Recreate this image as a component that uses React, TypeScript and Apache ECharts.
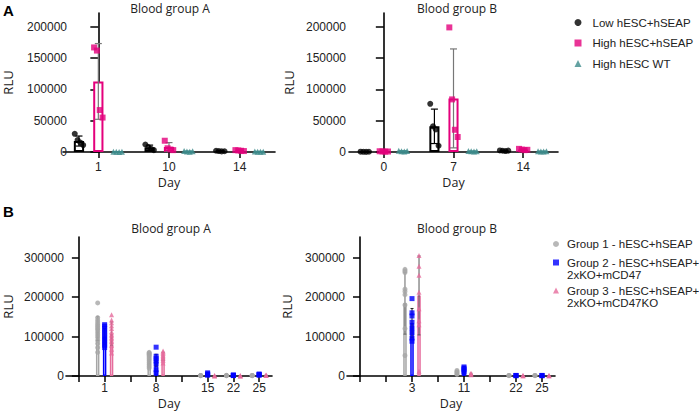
import React, { useEffect, useRef } from "react";
import * as echarts from "echarts";

// ---------------- Panel A ----------------
const aLeftTitle = "Blood group A";
const aRightTitle = "Blood group B";
const aLeftDays = ["1", "10", "14"];
const aRightDays = ["0", "7", "14"];
const aNames = ["Low hESC+hSEAP", "High hESC+hSEAP", "High hESC WT"];
const aYTicks = [0, 50000, 100000, 150000, 200000];

// Blood group A (panel A) replicates, means and SDs per day
const aLeftLowPts = [[29000, 19000, 15000, 11000], [12000, 8000, 5000, 3000], [2000, 1500, 1000, 1200]];
const aLeftHighPts = [[167000, 162000, 67000, 55000], [18000, 6000, 4000, 3000], [3000, 2500, 2000, 1500]];
const aLeftWtPts = [[300, 200, 100, 200], [1500, 800, 500, 1000], [600, 400, 300, 500]];
const aLeftLowMean = [17500, 7000, 1400];
const aLeftLowSd = [8000, 4000, 400];
const aLeftHighMean = [112700, 8000, 2200];
const aLeftHighSd = [60500, 7000, 600];
const aLeftWtMean = [200, 950, 450];
const aLeftWtSd = [80, 400, 130];

// Blood group B (panel A)
const aRightLowPts = [[500, 300, 200, 400], [77000, 41000, 36000, 10000], [2500, 2000, 1500, 2200]];
const aRightHighPts = [[1200, 900, 600, 800], [199000, 84000, 35500, 24000], [5000, 4000, 3000, 3500]];
const aRightWtPts = [[1800, 1200, 900, 1500], [1500, 1000, 800, 1200], [1200, 900, 700, 1000]];
const aRightLowMean = [350, 41000, 2050];
const aRightLowSd = [130, 27500, 400];
const aRightHighMean = [880, 85600, 3900];
const aRightHighSd = [250, 79000, 850];
const aRightWtMean = [1350, 1120, 950];
const aRightWtSd = [380, 300, 200];

// ---------------- Panel B ----------------
const bLeftTitle = "Blood group A";
const bRightTitle = "Blood group B";
const bLeftDays = ["", "1", "", "8", "", "15", "22", "25"];
const bRightDays = ["", "", "3", "", "11", "", "22", "25"];
const bLegendLines = [
  ["Group 1 - hESC+hSEAP"],
  ["Group 2 - hESC+hSEAP+", "2xKO+mCD47"],
  ["Group 3 - hESC+hSEAP+", "2xKO+mCD47KO"],
];
const bYTicks = [0, 100000, 200000, 300000];

// Blood group A (panel B)
const bLeftG1Pts = [null, [185000, 148000, 142000, 137000, 132000, 128000, 124000, 120000, 116000, 110000, 104000, 98000, 90000, 82000, 72000, 60000], null, [60000, 58000, 56000, 54000, 51000, 48000, 44000, 40000, 35000, 30000, 25000, 20000], null, [1500, 1200, 1000, 800], [1600, 1300, 1000, 800], [1500, 1200, 1000, 900]];
const bLeftG2Pts = [null, [130000, 126000, 120000, 114000, 108000, 102000, 96000, 90000, 84000, 78000, 72000], null, [73000, 50000, 44000, 38000, 30000, 16000, 8000], null, [8000, 5500, 3500, 2000], [2500, 2000, 1500, 1000], [5000, 4000, 3000, 2000]];
const bLeftG3Pts = [null, [155000, 142000, 135000, 127000, 120000, 112000, 104000, 96000, 88000, 78000, 68000, 58000], null, [63000, 60000, 57000, 53000, 49000, 45000, 40000, 33000], null, [900, 600, 400], [700, 450, 300], [2500, 1600, 1000]];
const bLeftG1Mean = [null, 120000, null, 43000, null, 1100, 1200, 1150];
const bLeftG1Sd = [null, 30000, null, 13000, null, 300, 350, 300];
const bLeftG2Mean = [null, 100000, null, 40000, null, 4700, 1750, 3500];
const bLeftG2Sd = [null, 20000, null, 15000, null, 2600, 650, 1300];
const bLeftG3Mean = [null, 107000, null, 50000, null, 630, 480, 1700];
const bLeftG3Sd = [null, 30000, null, 10000, null, 250, 200, 750];

// Blood group B (panel B)
const bRightG1Pts = [null, null, [270000, 266000, 262000, 220000, 214000, 206000, 180000, 120000, 52000], null, [14000, 11000, 9000, 6000, 4000], null, [1500, 1200, 1000], [1500, 1200, 1000]];
const bRightG2Pts = [null, null, [196000, 160000, 152000, 136000, 122000, 110000, 96000, 88000], null, [23000, 20000, 17000, 12000, 8000], null, [1500, 1000, 800], [1500, 1000, 800]];
const bRightG3Pts = [null, null, [305000, 278000, 255000, 212000, 170000, 140000, 130000, 12000], null, [7000, 5000, 3000], null, [1000, 700, 500], [1000, 700, 500]];
const bRightG1Mean = [null, null, 184000, null, 9000, null, 1200, 1200];
const bRightG1Sd = [null, null, 78000, null, 4000, null, 250, 250];
const bRightG2Mean = [null, null, 134000, null, 18000, null, 1100, 1100];
const bRightG2Sd = [null, null, 37000, null, 6000, null, 350, 350];
const bRightG3Mean = [null, null, 204000, null, 5000, null, 730, 730];
const bRightG3Sd = [null, null, 100000, null, 2000, null, 250, 250];

const A_COLORS = ["#000000", "#E4007C", "#3D8B8B"];
const A_ERR = ["#000000", "#777777", "#3D8B8B"];
const B_COLORS = ["#A6A6A6", "#0000FF", "#E66C9C"];
const B_ERR = ["#666666", "#222222", "#555555"];
const SYMBOLS = ["circle", "rect", "triangle"];

const bNames = bLegendLines.map((l) => l.join(""));

const TICK_FONT = "Liberation Sans, Arial, sans-serif";
const NAME_FONT = "Open Sans, sans-serif";

type Panel = {
  grid: number;
  names: string[];
  colors: string[];
  errColors: string[];
  pts: any[][];
  means: any[][];
  sds: any[][];
  barWidth: string;
  barGap: string;
  off: number;
  spread: number;
  symbolSize: number;
  borderWidth: number;
  capW: number;
  errW: number;
};

function panelSeries(c: Panel): any[] {
  const out: any[] = [];
  c.names.forEach((name, s) => {
    out.push({
      type: "bar",
      name: name + " mean",
      xAxisIndex: c.grid * 2,
      yAxisIndex: c.grid,
      data: c.means[s],
      barWidth: c.barWidth,
      barGap: c.barGap,
      itemStyle: { color: "#ffffff", borderColor: c.colors[s], borderWidth: c.borderWidth },
      z: 2,
      silent: true,
    });
  });
  c.names.forEach((name, s) => {
    const err: number[][] = [];
    c.means[s].forEach((m: number | null, i: number) => {
      if (m == null) return;
      const sd = c.sds[s][i];
      err.push([i + (s - 1) * c.off, Math.max(0, m - sd), m + sd]);
    });
    const color = c.errColors[s];
    const capW = c.capW;
    const lw = c.errW;
    out.push({
      type: "custom",
      name: name + " SD",
      xAxisIndex: c.grid * 2 + 1,
      yAxisIndex: c.grid,
      data: err,
      encode: { x: 0, y: [1, 2] },
      z: 3,
      silent: true,
      clip: false,
      renderItem: (params: any, api: any) => {
        const x = api.value(0);
        const lo = api.coord([x, api.value(1)]);
        const hi = api.coord([x, api.value(2)]);
        const st = { stroke: color, lineWidth: lw };
        return {
          type: "group",
          children: [
            { type: "line", shape: { x1: lo[0], y1: lo[1], x2: hi[0], y2: hi[1] }, style: st },
            { type: "line", shape: { x1: hi[0] - capW, y1: hi[1], x2: hi[0] + capW, y2: hi[1] }, style: st },
            { type: "line", shape: { x1: lo[0] - capW, y1: lo[1], x2: lo[0] + capW, y2: lo[1] }, style: st },
          ],
        };
      },
    });
  });
  c.names.forEach((name, s) => {
    const data: number[][] = [];
    c.pts[s].forEach((arr: number[] | null, i: number) => {
      if (!arr) return;
      const n = arr.length;
      arr.forEach((v, k) => data.push([i + (s - 1) * c.off + (k - (n - 1) / 2) * c.spread, v]));
    });
    out.push({
      type: "scatter",
      name,
      xAxisIndex: c.grid * 2 + 1,
      yAxisIndex: c.grid,
      symbol: SYMBOLS[s],
      symbolSize: c.symbolSize,
      itemStyle: { color: c.colors[s] },
      data,
      z: 4,
      clip: false,
    });
  });
  return out;
}

const axisLine = { show: true, lineStyle: { color: "#000", width: 1.6 } };

function xAxes(grid: number, cats: string[], nameGap: number, labelMargin: number, tickLen: number) {
  return [
    {
      type: "category",
      gridIndex: grid,
      data: cats,
      axisLine,
      axisTick: { show: true, alignWithLabel: true, interval: 0, length: tickLen, lineStyle: { color: "#000", width: 1.5 } },
      axisLabel: { interval: 0, margin: labelMargin, color: "#222", fontSize: 12, fontFamily: TICK_FONT },
      name: "Day",
      nameLocation: "middle",
      nameGap,
      nameTextStyle: { fontSize: 12.5, fontFamily: NAME_FONT, color: "#222" },
      splitLine: { show: false },
    },
    { type: "value", gridIndex: grid, min: -0.5, max: cats.length - 0.5, show: false },
  ];
}

function yAxis(grid: number, max: number, ticks: number[], nameGap: number, tickLen: number, margin: number, offset: number) {
  return {
    type: "value",
    gridIndex: grid,
    min: 0,
    max,
    offset,
    axisLine,
    axisTick: { show: true, length: tickLen, customValues: ticks, lineStyle: { color: "#000", width: 1.5 } },
    axisLabel: { customValues: ticks, margin, color: "#222", fontSize: 12, fontFamily: TICK_FONT, formatter: (v: number) => String(v) },
    splitLine: { show: false },
    name: "RLU",
    nameLocation: "middle",
    nameGap,
    nameTextStyle: { fontSize: 13, fontFamily: NAME_FONT, color: "#222" },
  };
}

function titleItem(text: string, left: number, top: number) {
  return {
    text,
    left,
    top,
    textAlign: "center",
    padding: 0,
    textStyle: { fontSize: 12, fontWeight: "normal", fontFamily: NAME_FONT, color: "#222" },
  };
}

export default function App() {
  const ref = useRef<HTMLDivElement>(null);
  useEffect(() => {
    document.body.style.margin = "0";
    if (!ref.current) return;
    const chart = echarts.init(ref.current, undefined, { renderer: "svg" });
    const aCommon = { barWidth: "14.5%", barGap: "89%", off: 0.274, spread: 0.04, symbolSize: 6, borderWidth: 2, capW: 3.5, errW: 1.2, names: aNames, colors: A_COLORS, errColors: A_ERR };
    const bCommon = { barWidth: "13.5%", barGap: "100%", off: 0.27, spread: 0, symbolSize: 5, borderWidth: 1.5, capW: 1.5, errW: 1, names: bNames, colors: B_COLORS, errColors: B_ERR };
    const series = [
      ...panelSeries({ ...aCommon, grid: 0, pts: [aLeftLowPts, aLeftHighPts, aLeftWtPts], means: [aLeftLowMean, aLeftHighMean, aLeftWtMean], sds: [aLeftLowSd, aLeftHighSd, aLeftWtSd] }),
      ...panelSeries({ ...aCommon, grid: 1, pts: [aRightLowPts, aRightHighPts, aRightWtPts], means: [aRightLowMean, aRightHighMean, aRightWtMean], sds: [aRightLowSd, aRightHighSd, aRightWtSd] }),
      ...panelSeries({ ...bCommon, grid: 2, pts: [bLeftG1Pts, bLeftG2Pts, bLeftG3Pts], means: [bLeftG1Mean, bLeftG2Mean, bLeftG3Mean], sds: [bLeftG1Sd, bLeftG2Sd, bLeftG3Sd] }),
      ...panelSeries({ ...bCommon, grid: 3, pts: [bRightG1Pts, bRightG2Pts, bRightG3Pts], means: [bRightG1Mean, bRightG2Mean, bRightG3Mean], sds: [bRightG1Sd, bRightG2Sd, bRightG3Sd] }),
    ];
    const legendText = { fontSize: 11.5, fontFamily: TICK_FONT, color: "#222", lineHeight: 12 };
    const bLegendTops = [238, 244.5, 272.5];
    const option: any = {
      animation: false,
      textStyle: { fontFamily: TICK_FONT },
      title: [
        { text: "A", left: 3, top: 3, padding: 0, textStyle: { fontSize: 15, fontWeight: "bold", fontFamily: TICK_FONT, color: "#000" } },
        { text: "B", left: 3, top: 204, padding: 0, textStyle: { fontSize: 15, fontWeight: "bold", fontFamily: TICK_FONT, color: "#000" } },
        titleItem(aLeftTitle, 170, 2),
        titleItem(aRightTitle, 457, 2),
        titleItem(bLeftTitle, 171, 222),
        titleItem(bRightTitle, 457, 222),
      ],
      legend: [
        {
          orient: "vertical",
          left: 574.5,
          top: 16.5,
          padding: 0,
          itemGap: 8.5,
          itemWidth: 7,
          itemHeight: 7,
          selectedMode: false,
          data: aNames.map((n, i) => ({ name: n, icon: SYMBOLS[i], itemStyle: { color: A_COLORS[i] } })),
          textStyle: { ...legendText, padding: [0, 0, 0, 6] },
        },
        ...bNames.map((n, i) => ({
          orient: "vertical",
          left: 553,
          top: bLegendTops[i],
          padding: 0,
          itemWidth: 6,
          itemHeight: 6,
          selectedMode: false,
          data: [{ name: n, icon: SYMBOLS[i], itemStyle: { color: B_COLORS[i] } }],
          formatter: () => (bLegendLines[i].length > 1 ? "\n" : "") + bLegendLines[i].join("\n"),
          textStyle: { ...legendText, padding: [0, 0, 0, 3] },
        })),
      ],
      grid: [
        { left: 61, top: 13, width: 214, height: 139 },
        { left: 349, top: 13, width: 209, height: 139 },
        { left: 64, top: 237, width: 208, height: 139 },
        { left: 347, top: 237, width: 208, height: 139 },
      ],
      xAxis: [
        ...xAxes(0, aLeftDays, 23.5, 8.5, 6),
        ...xAxes(1, aRightDays, 23.5, 8.5, 6),
        ...xAxes(2, bLeftDays, 21, 5.5, 6),
        ...xAxes(3, bRightDays, 21, 5.5, 6),
      ],
      yAxis: [
        yAxis(0, 222000, aYTicks, 56, 8, 3, -7),
        yAxis(1, 222000, aYTicks, 54, 8, 3, 0),
        yAxis(2, 352000, bYTicks, 52, 7, 2, 0),
        yAxis(3, 352000, bYTicks, 54, 7, 2, 0),
      ],
      series,
    };
    chart.setOption(option);
    return () => chart.dispose();
  }, []);
  return <div ref={ref} style={{ width: 699, height: 412 }} />;
}
